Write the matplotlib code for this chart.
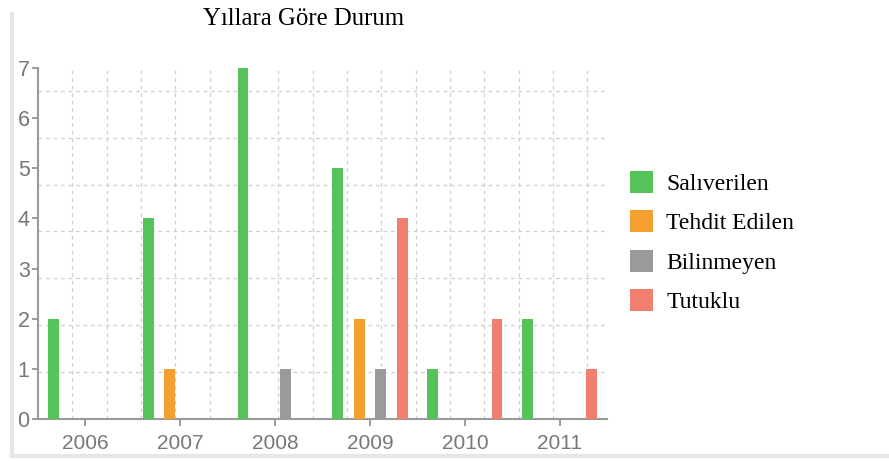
"""Yıllara göre durum: 4 kategorili gruplu çubuk grafik."""
import matplotlib

matplotlib.use("Agg")
import matplotlib.pyplot as plt
import numpy as np
from matplotlib.lines import Line2D
from matplotlib.patches import Patch

years = ["2006", "2007", "2008", "2009", "2010", "2011"]
labels = ["Salıverilen", "Tehdit Edilen", "Bilinmeyen", "Tutuklu"]
saliverilen = [2, 4, 7, 5, 1, 2]
tehdit = [0, 1, 0, 2, 0, 0]
bilinmeyen = [0, 0, 1, 1, 0, 0]
tutuklu = [0, 0, 0, 4, 2, 1]
colors = ["#56c25a", "#f3a031", "#9a9a9a", "#f07f70"]

series = [saliverilen, tehdit, bilinmeyen, tutuklu]
x = np.arange(len(years))
slot = 0.226
width = 0.115

fig = plt.figure(figsize=(8.89, 4.61), dpi=100)
ax = fig.add_axes([0.0427, 0.0911, 0.6403, 0.7614])

for i, (vals, col) in enumerate(zip(series, colors)):
    ax.bar(x + (i - 1.5) * slot, vals, width=width, color=col, zorder=3)

ax.set_xlim(-0.5, len(years) - 0.5)
ax.set_ylim(0, 7)
ax.set_xticks(x)
ax.set_xticklabels(years)
ax.set_yticks(range(0, 8))

# grid çizgileri tick'lerle hizalı değil (orijinaldeki gibi)
ax.set_xticks(-0.5 + 0.362 * np.arange(1, 17), minor=True)
ax.set_yticks(0.935 * np.arange(1, 8), minor=True)
ax.grid(which="minor", color="#cfcfcf", linestyle=(0, (3, 3)), linewidth=0.9, zorder=0)
ax.tick_params(which="minor", length=0)
ax.tick_params(which="major", colors="#8a8a8a", labelcolor="#777777", width=1.2)
ax.tick_params(axis="x", length=5, labelsize=15, pad=6)
ax.tick_params(axis="y", length=4, labelsize=15.5, pad=2)
for lbl in ax.get_xticklabels() + ax.get_yticklabels():
    lbl.set_family("Liberation Sans")

for s in ("top", "right"):
    ax.spines[s].set_visible(False)
for s in ("left", "bottom"):
    ax.spines[s].set_color("#9a9a9a")
    ax.spines[s].set_linewidth(1.5)

fig.text(0.341, 0.958, "Yıllara Göre Durum", ha="center", va="center",
         family="Liberation Serif", fontsize=17.8)

handles = [Patch(facecolor=c, edgecolor="none") for c in colors]
fig.legend(handles, labels, loc="upper left", bbox_to_anchor=(0.685, 0.676),
           frameon=False, prop={"family": "Liberation Serif", "size": 17},
           handlelength=0.98, handleheight=1.05, handletextpad=0.55, labelspacing=0.66)

# ekran görüntüsündeki açık gri çerçeve
fig.add_artist(Line2D([0.014, 0.014], [0.01, 0.97], color="#e6e6e6", lw=3))
fig.add_artist(Line2D([0.014, 1.0], [0.01, 0.01], color="#e6e6e6", lw=3))

fig.savefig("out.png", dpi=100)
